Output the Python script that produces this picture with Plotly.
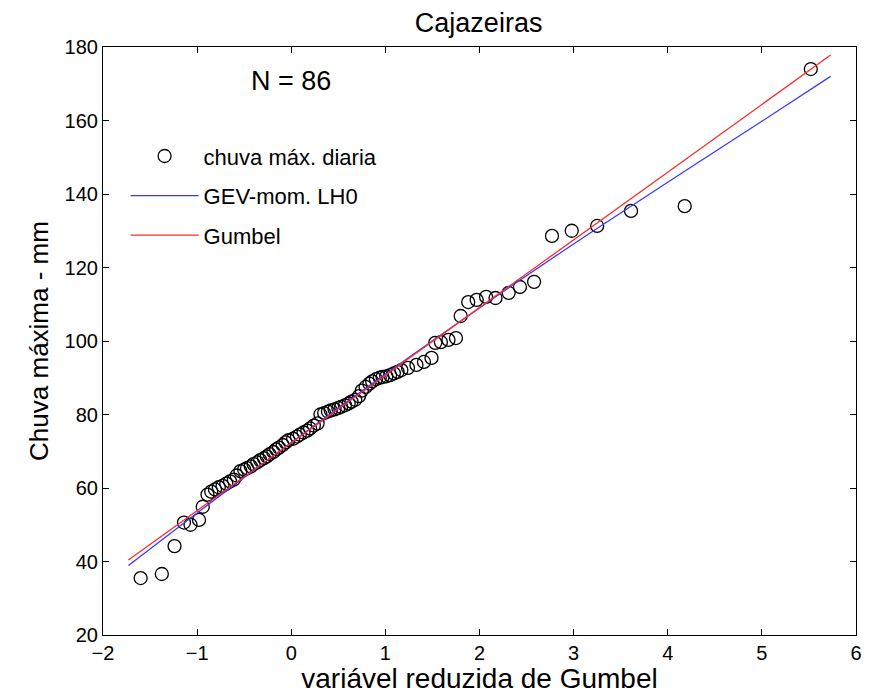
import plotly.graph_objects as go

# Observed annual maximum daily rainfall (mm) against the Gumbel reduced variate
gumbel_variate = [
    -1.60, -1.375, -1.24, -1.14, -1.07, -0.98, -0.94,
    -0.89, -0.85, -0.81, -0.77, -0.73, -0.69, -0.65, -0.61, -0.58, -0.54,
    -0.50, -0.47, -0.43, -0.40, -0.36, -0.33, -0.29, -0.26, -0.23, -0.19,
    -0.16, -0.13, -0.09, -0.06, -0.03,
    0.02, 0.06, 0.09, 0.13, 0.17, 0.20, 0.24, 0.28, 0.31, 0.35, 0.39,
    0.42, 0.46, 0.50, 0.53, 0.57, 0.61, 0.64, 0.68, 0.72, 0.75, 0.79,
    0.83, 0.86, 0.90, 0.94, 0.97, 1.01, 1.05, 1.09, 1.13,
    1.17, 1.24, 1.33, 1.41, 1.49, 1.53, 1.59, 1.67, 1.75, 1.80, 1.88,
    1.97, 2.07, 2.17, 2.31, 2.43, 2.58,
    2.77, 2.98, 3.25, 3.61, 4.18, 5.52,
]
rain_max = [
    35.5, 36.6, 44.2, 50.6, 50.0, 51.3, 54.9,
    58.2, 59.0, 59.6, 60.2, 60.6, 61.2, 61.8, 62.3, 63.4, 64.6,
    65.0, 65.4, 65.9, 66.5, 67.0, 67.6, 68.1, 68.6, 69.2, 69.8,
    70.5, 71.0, 71.7, 72.4, 73.0,
    73.4, 74.0, 74.5, 75.1, 75.6, 76.2, 77.0, 77.6, 80.0, 80.4, 80.8,
    81.1, 81.4, 81.8, 82.1, 82.5, 83.0, 83.5, 84.0, 85.0, 86.5, 87.5,
    88.4, 89.0, 89.6, 90.0, 90.2, 90.4, 90.7, 91.2, 91.6,
    92.1, 92.7, 93.5, 94.3, 95.4, 99.5, 99.7, 100.3, 100.8, 106.8, 110.6,
    111.2, 112.0, 111.7, 113.1, 114.7, 116.1,
    128.6, 130.0, 131.3, 135.4, 136.7, 174.0,
]

# Fitted quantile curves
gev_x = [-1.73, -1.0, 0.0, 1.0, 2.0, 3.0, 4.0, 5.0, 5.73]
gev_y = [38.9, 53.2, 72.4, 91.0, 109.0, 126.4, 143.2, 159.8, 172.0]
gumbel_x = [-1.73, 5.73]
gumbel_y = [40.4, 177.8]

sample_size = 86

fig = go.Figure()
fig.add_trace(go.Scatter(
    x=gumbel_variate, y=rain_max, mode="markers",
    name="chuva máx. diaria", legendgroup="a",
    marker=dict(symbol="circle-open", size=13, color="black",
                line=dict(width=1.3, color="black")),
))
fig.add_trace(go.Scatter(
    x=gev_x, y=gev_y, mode="lines", line_shape="spline",
    name="GEV-mom. LH0", legendgroup="b",
    line=dict(color="#3a3aff", width=1.3),
))
fig.add_trace(go.Scatter(
    x=gumbel_x, y=gumbel_y, mode="lines",
    name="Gumbel", legendgroup="c",
    line=dict(color="#ff2a2a", width=1.3),
))

axis_common = dict(
    showline=True, linecolor="black", linewidth=1.2, mirror="allticks",
    ticks="inside", ticklen=6, tickwidth=1.2, tickcolor="black",
    showgrid=False, zeroline=False, automargin=False,
)

fig.update_layout(
    width=875, height=694,
    margin=dict(l=103, r=19, t=47, b=59),
    paper_bgcolor="white", plot_bgcolor="white",
    font=dict(family="Liberation Sans, Arial, sans-serif", color="black"),
    title=dict(text="Cajazeiras", x=0.547, xanchor="center", y=0.968,
               yanchor="middle", font=dict(size=27)),
    xaxis=dict(range=[-2, 6], dtick=1, tick0=-2,
               tickfont=dict(size=20),
               title=dict(text="variável reduzida de Gumbel", standoff=6,
                          font=dict(size=28)),
               **axis_common),
    yaxis=dict(range=[20, 180], dtick=20, tick0=20,
               tickfont=dict(size=20),
               title=dict(text="Chuva máxima - mm", standoff=8, font=dict(size=26)),
               **axis_common),
    legend=dict(x=0.03, y=0.85, xanchor="left", yanchor="top",
                bgcolor="rgba(0,0,0,0)", borderwidth=0, itemwidth=68,
                font=dict(size=22), tracegroupgap=8),
    showlegend=True,
    annotations=[dict(x=0.0, y=170.7, xref="x", yref="y",
                      text=f"N = {sample_size}", showarrow=False,
                      font=dict(size=27))],
)

fig.write_html("out.html")
